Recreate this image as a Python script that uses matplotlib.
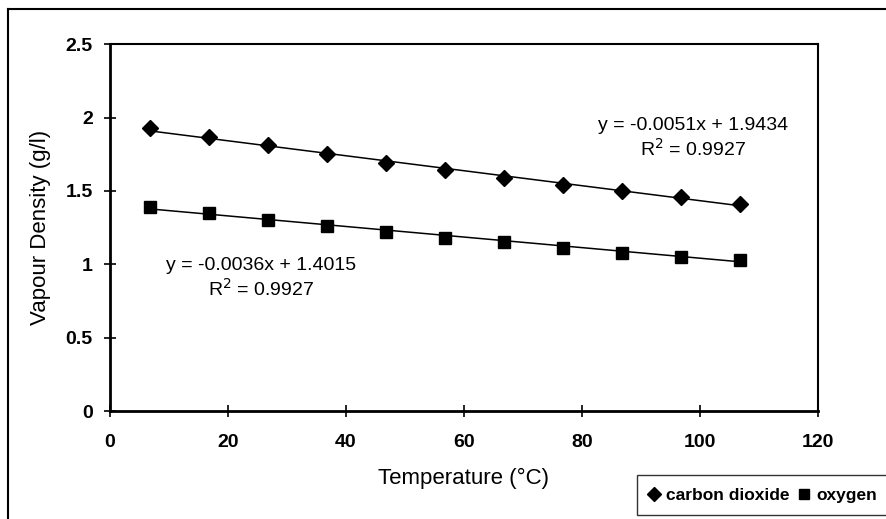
import numpy as np
import matplotlib
matplotlib.use("Agg")
import matplotlib.pyplot as plt
from matplotlib.lines import Line2D

plt.rcParams['font.family'] = ['Liberation Sans', 'DejaVu Sans']

# temperatures (°C) and measured vapour densities (g/l)
temps = [6.85, 16.85, 26.85, 36.85, 46.85, 56.85, 66.85, 76.85, 86.85, 96.85, 106.85]
co2 = [1.93, 1.87, 1.81, 1.75, 1.69, 1.64, 1.59, 1.54, 1.50, 1.46, 1.41]
o2 = [1.39, 1.35, 1.30, 1.26, 1.22, 1.18, 1.15, 1.11, 1.08, 1.05, 1.03]

# linear trend lines as reported on the chart
co2_fit = (-0.0051, 1.9434)
o2_fit = (-0.0036, 1.4015)
co2_eq = "y = -0.0051x + 1.9434\nR$^2$ = 0.9927"
o2_eq = "y = -0.0036x + 1.4015\nR$^2$ = 0.9927"

xticks = [0, 20, 40, 60, 80, 100, 120]
yticks = [0, 0.5, 1, 1.5, 2, 2.5]
ytick_labels = ["0", "0.5", "1", "1.5", "2", "2.5"]

fig = plt.figure(figsize=(8.87, 5.19), dpi=100)
ax = fig.add_axes([0.124, 0.208, 0.798, 0.707])

x = np.array(temps)
xs = np.array([x.min(), x.max()])
ax.plot(xs, co2_fit[0] * xs + co2_fit[1], color='black', lw=1.1, zorder=2)
ax.plot(xs, o2_fit[0] * xs + o2_fit[1], color='black', lw=1.1, zorder=2)
ax.plot(temps, co2, linestyle='none', marker='D', ms=8, color='black',
        label='carbon dioxide', zorder=3)
ax.plot(temps, o2, linestyle='none', marker='s', ms=8.5, color='black',
        label='oxygen', zorder=3)

ax.set_xlim(0, 120)
ax.set_ylim(0, 2.5)
ax.set_xticks(xticks)
ax.set_yticks(yticks)
ax.set_yticklabels(ytick_labels)
ax.tick_params(direction='inout', length=9, width=1.2, labelsize=14)
ax.tick_params(axis='x', pad=12)
ax.tick_params(axis='y', pad=8)
for lab in ax.get_xticklabels() + ax.get_yticklabels():
    lab.set_fontweight('bold')

for side in ['left', 'bottom']:
    ax.spines[side].set_linewidth(2.0)
for side in ['top', 'right']:
    ax.spines[side].set_linewidth(1.5)

ax.set_xlabel("Temperature (°C)", fontsize=16, labelpad=12)
ax.set_ylabel("Vapour Density (g/l)", fontsize=16, labelpad=10)

ax.text(98.8, 1.856, co2_eq, ha='center', va='center', fontsize=14,
        linespacing=1.2)
ax.text(25.6, 0.905, o2_eq, ha='center', va='center', fontsize=14,
        linespacing=1.2)

leg = fig.legend(loc='lower left', bbox_to_anchor=(0.718, 0.008), ncol=2,
                 frameon=True, fancybox=False, handlelength=0.6,
                 handletextpad=0.4, columnspacing=0.5, borderpad=0.7,
                 borderaxespad=0, markerscale=0.9,
                 prop={'weight': 'bold', 'size': 12.5})
leg.get_frame().set_edgecolor('black')
leg.get_frame().set_linewidth(1.0)

# outer chart frame (left and top edges visible)
fig.add_artist(Line2D([0.009, 0.009], [0.0, 0.983], color='black', lw=1.5,
                      transform=fig.transFigure))
fig.add_artist(Line2D([0.009, 1.0], [0.983, 0.983], color='black', lw=1.5,
                      transform=fig.transFigure))

fig.savefig("out.png", dpi=100)
